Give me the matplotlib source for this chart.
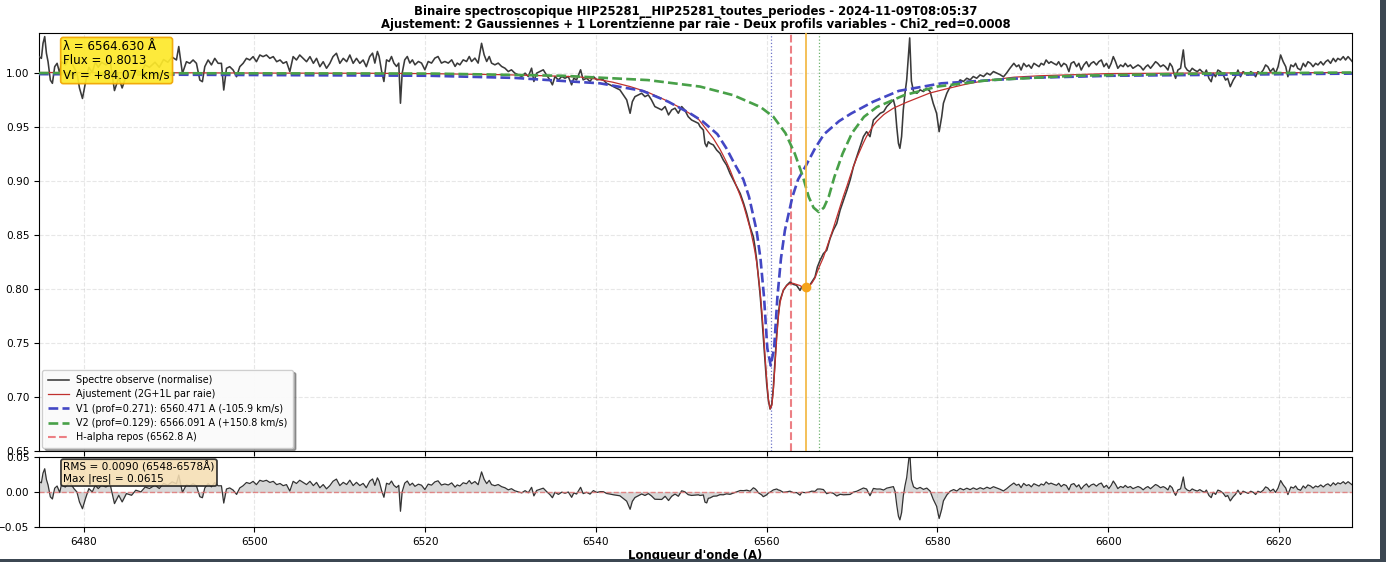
import numpy as np
import matplotlib
matplotlib.use("Agg")
import matplotlib.pyplot as plt
from matplotlib.patches import Rectangle

# ---------------- data ----------------
obs_wl = [
6474.77,6475.04,6475.23,6475.43,6475.63,6475.82,6476.09,6476.33,6476.60,6476.88,6477.19,6477.38,6477.85,6478.35,6478.85,
6479.20,6479.50,6479.85,6480.20,6480.60,6481.00,6481.35,6481.70,6482.10,6482.60,6483.10,6483.60,6484.10,6484.50,6485.00,
6485.60,6486.10,6486.70,6487.20,6487.70,6488.35,6488.85,6489.35,6489.85,6490.35,6490.86,6491.13,6491.56,6492.03,6492.42,
6492.81,6493.20,6493.60,6493.90,6494.18,6494.57,6494.96,6495.35,6495.74,6496.13,6496.40,6496.72,6497.10,6497.50,6497.90,
6498.28,6498.67,6499.06,6499.45,6499.84,6500.23,6500.63,6501.00,6501.40,6501.80,6502.20,6502.60,6503.00,6503.36,6503.75,
6504.14,6504.53,6504.92,6505.30,6505.70,6506.10,6506.50,6506.90,6507.27,6507.66,6508.05,6508.44,6508.83,6509.20,6509.60,
6510.00,6510.40,6510.80,6511.17,6511.56,6511.95,6512.34,6512.73,6513.10,6513.50,6513.83,6514.10,6514.40,6514.60,6514.90,
6515.16,6515.47,6515.78,6516.05,6516.33,6516.64,6516.90,6517.10,6517.30,6517.60,6517.90,6518.20,6518.50,6518.80,6519.20,
6519.57,6519.96,6520.35,6520.74,6521.13,6521.50,6521.90,6522.30,6522.70,6523.10,6523.50,6523.75,6524.06,6524.45,6524.84,
6525.16,6525.43,6525.82,6526.20,6526.60,6526.90,6527.20,6527.50,6527.77,6528.16,6528.55,6528.95,6529.34,6529.73,6530.10,
6530.50,6530.90,6531.30,6531.70,6532.07,6532.46,6532.73,6533.05,6533.44,6533.83,6534.20,6534.60,6534.90,6535.20,6535.60,
6536.00,6536.37,6536.76,6537.15,6537.40,6537.73,6538.20,6538.50,6538.90,6539.30,6539.70,6540.10,6540.50,6540.86,6541.25,
6541.64,6542.03,6542.40,6542.80,6543.20,6543.60,6544.00,6544.26,6544.57,6544.96,6545.35,6545.74,6546.13,6546.50,6546.90,
6547.30,6547.70,6548.10,6548.50,6548.87,6549.26,6549.65,6550.04,6550.40,6550.80,6551.20,6551.60,6552.00,
6552.19,6552.58,6552.77,6552.97,6553.16,6553.36,6553.75,6554.14,6554.53,6554.92,6555.30,6555.70,6556.10,6556.50,6556.90,
6557.30,6557.66,6558.05,6558.44,6558.63,6558.83,6559.02,6559.22,6559.41,6559.60,6559.80,6560.00,6560.20,6560.40,6560.60,
6560.78,6560.98,6561.17,6561.37,6561.56,6561.95,6562.34,6562.73,6563.12,6563.50,6563.90,6564.10,6564.50,6564.90,6565.27,
6565.66,6565.94,6566.25,6566.64,6567.03,6567.42,6567.80,6568.20,6568.60,6569.00,6569.40,6569.77,6570.16,6570.55,6570.94,
6571.33,6571.70,6572.10,6572.50,6572.90,6573.30,6573.70,6574.06,6574.45,6574.84,
6575.04,6575.23,6575.43,6575.60,6575.80,6576.00,6576.20,6576.40,6576.60,6576.75,6576.95,6577.20,6577.60,6577.97,6578.36,
6578.75,6579.14,6579.50,6579.90,6580.20,6580.50,6580.70,6581.10,6581.50,6581.90,6582.27,6582.66,6583.05,6583.44,6583.83,
6584.20,6584.60,6585.00,6585.40,6585.80,6586.17,6586.56,6586.95,6587.34,6587.73,6588.10,6588.50,6588.95,
6589.26,6589.53,6589.80,6590.10,6590.43,6590.70,6591.00,6591.30,6591.60,6591.90,6592.15,6592.46,6592.73,6593.05,6593.30,
6593.60,6593.95,6594.20,6594.50,6594.80,6595.10,6595.40,6595.66,6595.98,6596.30,6596.56,6596.84,6597.15,6597.46,6597.73,
6598.00,6598.30,6598.63,6598.90,6599.20,6599.50,6599.80,6600.08,6600.35,6600.60,6600.86,6601.13,6601.45,6601.76,6602.00,
6602.30,6602.60,6602.90,6603.20,6603.50,6603.80,6604.10,6604.40,6604.65,6604.96,6605.27,6605.55,6605.80,6606.13,6606.45,
6606.70,6607.00,6607.23,6607.50,6607.70,6607.90,6608.16,6608.48,6608.80,6609.00,6609.26,6609.57,6609.84,6610.10,6610.43,
6610.74,6611.00,6611.30,6611.50,6611.80,6612.07,6612.30,6612.58,6612.85,6613.16,6613.48,6613.75,6614.00,6614.30,6614.65,
6614.90,6615.20,6615.50,6615.80,6616.10,6616.40,6616.70,6617.00,6617.27,6617.54,6617.85,6618.16,6618.44,6618.70,6619.00,
6619.34,6619.60,6619.90,6620.20,6620.50,6620.80,6621.05,6621.40,6621.70,6621.95,6622.20,6622.54,6622.85,6623.10,6623.40,
6623.70,6624.00,6624.30,6624.57,6624.90,6625.20,6625.47,6625.74,6626.05,6626.37,6626.64,6626.90,6627.20,6627.54,6627.80,
6628.10,6628.60]

obs_flux = [
1.0147,1.0131,1.0270,1.0332,1.0178,1.0100,0.9930,0.9900,1.0054,1.0085,0.9992,1.0100,1.0070,1.0143,1.0048,
1.0000,0.9857,0.9760,0.9905,1.0048,1.0000,1.0095,1.0048,1.0095,1.0070,1.0105,0.9833,0.9952,0.9857,0.9976,
0.9952,1.0024,1.0000,1.0070,1.0048,1.0095,1.0048,1.0120,1.0095,1.0143,1.0116,1.0240,0.9992,1.0100,1.0085,
1.0116,1.0085,0.9930,0.9915,1.0054,1.0116,1.0070,1.0131,1.0085,1.0085,0.9838,1.0039,1.0054,1.0023,0.9961,
1.0054,1.0085,1.0131,1.0116,1.0147,1.0100,1.0162,1.0147,1.0162,1.0131,1.0147,1.0100,1.0116,1.0085,1.0100,
1.0008,1.0147,1.0116,1.0162,1.0131,1.0100,1.0147,1.0085,1.0131,1.0054,1.0100,1.0039,1.0085,1.0147,1.0178,
1.0085,1.0131,1.0100,1.0162,1.0085,1.0131,1.0085,1.0116,1.0054,1.0147,1.0179,1.0087,1.0195,1.0148,1.0009,
0.9917,1.0117,1.0102,1.0148,1.0087,1.0056,1.0087,0.9716,0.9994,1.0117,1.0148,1.0087,1.0117,1.0071,1.0102,
1.0087,1.0025,1.0102,1.0087,1.0133,1.0148,1.0087,1.0102,1.0087,1.0117,1.0056,1.0087,1.0071,1.0117,1.0102,
1.0148,1.0102,1.0133,1.0087,1.0270,1.0164,1.0102,1.0148,1.0087,1.0071,1.0087,1.0056,1.0040,1.0009,1.0025,
0.9994,0.9978,0.9963,0.9994,0.9963,1.0040,0.9917,0.9994,1.0009,1.0025,0.9978,0.9932,0.9886,0.9963,0.9932,
0.9963,0.9947,0.9963,0.9886,0.9947,0.9932,1.0025,0.9932,0.9947,0.9917,0.9963,0.9932,0.9938,0.9932,0.9900,
0.9886,0.9870,0.9855,0.9840,0.9793,0.9747,0.9623,0.9730,0.9777,0.9793,0.9808,0.9777,0.9793,0.9747,0.9685,
0.9670,0.9654,0.9685,0.9608,0.9654,0.9670,0.9623,0.9685,0.9654,0.9592,0.9561,0.9546,0.9530,
0.9500,0.9468,0.9345,0.9314,0.9360,0.9345,0.9330,0.9283,0.9252,0.9190,0.9144,0.9067,0.9005,0.8943,0.8881,
0.8789,0.8696,0.8572,0.8480,0.8387,0.8263,0.8109,0.7954,0.7769,0.7553,0.7336,0.7120,0.6966,0.6888,0.6935,
0.7090,0.7336,0.7583,0.7769,0.7893,0.7985,0.8032,0.8062,0.8041,0.8032,0.7985,0.8016,0.8001,0.8016,0.8062,
0.8109,0.8202,0.8263,0.8325,0.8356,0.8464,0.8542,0.8603,0.8727,0.8820,0.8912,0.9005,0.9129,0.9221,0.9314,
0.9407,0.9453,0.9407,0.9561,0.9592,0.9623,0.9638,0.9685,0.9716,0.9747,
0.9685,0.9500,0.9345,0.9299,0.9407,0.9654,0.9808,0.9932,1.0150,1.0320,0.9920,0.9824,0.9808,0.9840,0.9824,
0.9855,0.9824,0.9716,0.9623,0.9453,0.9592,0.9716,0.9808,0.9870,0.9900,0.9886,0.9932,0.9917,0.9947,0.9932,
0.9963,0.9947,0.9978,0.9963,0.9994,0.9978,1.0009,0.9994,0.9980,0.9960,0.9995,1.0040,1.0085,
1.0054,1.0070,1.0023,1.0085,1.0054,1.0070,1.0039,1.0085,1.0070,1.0054,1.0085,1.0070,1.0116,1.0085,1.0100,
1.0085,1.0070,1.0100,1.0054,1.0085,1.0070,1.0008,1.0085,1.0100,1.0054,1.0085,1.0023,1.0070,1.0100,1.0054,
1.0085,1.0100,1.0070,1.0100,1.0116,1.0054,1.0085,1.0039,1.0085,1.0147,1.0100,1.0039,1.0070,1.0054,1.0085,
1.0054,1.0070,1.0039,1.0054,1.0070,1.0054,1.0023,1.0054,1.0070,1.0039,1.0070,1.0100,1.0085,1.0054,1.0070,
1.0054,1.0023,1.0085,1.0054,0.9992,0.9946,1.0023,1.0039,1.0209,1.0054,1.0023,1.0008,1.0039,1.0023,1.0008,
1.0029,1.0008,0.9992,1.0023,0.9946,0.9915,0.9992,0.9961,1.0023,1.0008,0.9977,0.9930,0.9946,0.9869,0.9930,
0.9961,1.0023,0.9961,1.0008,0.9992,0.9977,1.0008,0.9992,0.9961,1.0008,0.9992,1.0023,1.0070,1.0054,1.0008,
1.0039,0.9992,1.0054,1.0162,1.0100,1.0054,0.9961,1.0070,1.0054,1.0085,1.0039,1.0023,1.0085,1.0054,1.0100,
1.0085,1.0054,1.0085,1.0070,1.0100,1.0070,1.0100,1.0116,1.0085,1.0131,1.0100,1.0131,1.0116,1.0147,1.0116,
1.0147,1.0100]

fit_wl = [6474.75,6490.0,6500.0,6513.5,6520.0,6529.0,6534.0,6538.0,6540.0,6542.0,6544.0,6546.0,6548.0,6550.0,6552.0,
6552.19,6552.58,6552.77,6552.97,6553.16,6553.36,6553.75,6554.14,6554.53,6554.92,6555.30,6555.70,6556.10,6556.50,6556.90,
6557.30,6557.66,6558.05,6558.44,6558.63,6558.83,6559.02,6559.22,6559.41,6559.60,6559.80,6560.00,6560.20,6560.40,6560.60,
6560.78,6560.98,6561.17,6561.37,6561.56,6561.95,6562.34,6562.73,6563.12,6563.50,6563.90,6564.10,6564.50,6564.90,6565.27,
6565.66,6565.94,6566.25,6566.64,6567.03,6567.42,6567.80,6568.20,6568.60,6569.00,6569.40,6569.77,6570.16,6570.55,6570.94,
6571.33,6571.70,6572.10,6572.50,6572.90,6573.30,6573.70,6574.06,6574.45,6574.84,
6576.4,6579.1,6581.1,6583.0,6585.0,6587.0,6589.0,6592.0,6600.0,6610.0,6628.6]
fit_flux = [1.000,0.9998,0.9995,0.9993,0.999,0.998,0.997,0.996,0.994,0.991,0.987,0.982,0.975,0.967,0.957,
0.955,0.951,0.949,0.947,0.945,0.943,0.939,0.934,0.929,0.923,0.917,0.910,0.902,0.894,0.886,
0.877,0.867,0.856,0.842,0.834,0.824,0.812,0.798,0.781,0.762,0.739,0.716,0.698,0.689,0.692,
0.706,0.730,0.754,0.774,0.787,0.799,0.803,0.805,0.805,0.804,0.803,0.802,0.801,0.802,0.805,
0.810,0.816,0.822,0.829,0.838,0.847,0.856,0.866,0.876,0.886,0.895,0.904,0.913,0.921,0.928,
0.935,0.941,0.946,0.951,0.955,0.958,0.961,0.963,0.965,0.967,
0.9725,0.981,0.985,0.9886,0.9917,0.9938,0.9957,0.997,0.999,0.9995,1.000]

v1_wl = [6474.75,6520.471,6530.471,6540.471,6545.471,6548.471,6551.071,6552.471,6554.221,6555.271,6556.271,6557.271,
6557.931,6558.811,6559.271,6559.691,6560.071,6560.471,6560.871,6561.251,6561.671,6562.131,6563.011,6563.671,
6564.671,6565.671,6566.721,6568.471,6569.871,6572.471,6575.471,6580.471,6590.471,6600.471,6628.6]
v1_flux = [0.9985,0.997,0.995,0.990,0.983,0.973,0.962,0.955,0.943,0.930,0.915,0.901,
0.885,0.854,0.828,0.792,0.745,0.729,0.745,0.792,0.828,0.854,0.885,0.901,
0.915,0.930,0.943,0.955,0.962,0.973,0.983,0.990,0.995,0.997,0.999]

v2_wl = [6474.75,6521.091,6536.091,6546.091,6552.191,6556.091,6559.291,6560.791,6562.191,6563.291,6564.251,6564.921,
6565.491,6566.091,6566.691,6567.261,6567.931,6568.891,6569.991,6571.391,6572.891,6576.091,6579.991,6586.091,
6596.091,6611.091,6628.6]
v2_flux = [0.9995,0.999,0.997,0.993,0.987,0.979,0.968,0.959,0.944,0.925,0.9035,0.885,
0.875,0.871,0.875,0.885,0.9035,0.925,0.944,0.959,0.968,0.979,0.987,0.993,
0.997,0.999,1.000]

v1_center = 6560.471
v2_center = 6566.091
halpha_rest = 6562.8
cursor_wl = 6564.630
cursor_flux = 0.8013

title_text = ("Binaire spectroscopique HIP25281__HIP25281_toutes_periodes - 2024-11-09T08:05:37\n"
              "Ajustement: 2 Gaussiennes + 1 Lorentzienne par raie - Deux profils variables - Chi2_red=0.0008")
legend_labels = ["Spectre observe (normalise)", "Ajustement (2G+1L par raie)",
                 "V1 (prof=0.271): 6560.471 A (-105.9 km/s)",
                 "V2 (prof=0.129): 6566.091 A (+150.8 km/s)",
                 "H-alpha repos (6562.8 A)"]
cursor_text = "λ = 6564.630 Å\nFlux = 0.8013\nVr = +84.07 km/s"
res_text = "RMS = 0.0090 (6548-6578Å)\nMax |res| = 0.0615"
res_yticks = [-0.05, 0.0, 0.05]
main_yticks = [0.65, 0.70, 0.75, 0.80, 0.85, 0.90, 0.95, 1.00]
x_ticks = [6480, 6500, 6520, 6540, 6560, 6580, 6600, 6620]

# ---------------- figure ----------------
plt.rcParams['font.family'] = ['DejaVu Sans']
plt.rcParams['font.size'] = 7.6

W, H = 1386, 562
fig = plt.figure(figsize=(W / 100, H / 100), dpi=100)
fig.patch.set_facecolor('white')

ax = fig.add_axes([39 / W, 1 - 451 / H, (1352 - 39) / W, (451 - 32.5) / H])
axr = fig.add_axes([39 / W, 1 - 527 / H, (1352 - 39) / W, 70 / H], sharex=ax)

obs_wl_a = np.array(obs_wl)
obs_flux_a = np.array(obs_flux)
fit_on_obs = np.interp(obs_wl_a, fit_wl, fit_flux)
residual = obs_flux_a - fit_on_obs

ax.plot(obs_wl, obs_flux, color='#3a3a3a', lw=1.15, label=legend_labels[0], zorder=3)
ax.plot(fit_wl, fit_flux, color='#c0302e', lw=0.9, label=legend_labels[1], zorder=4)
ax.plot(v1_wl, v1_flux, color='#4347c4', lw=1.9, ls='--', label=legend_labels[2], zorder=5)
ax.plot(v2_wl, v2_flux, color='#48a048', lw=1.9, ls='--', label=legend_labels[3], zorder=5)
ax.axvline(halpha_rest, color='#ec7f84', lw=1.5, ls='--', label=legend_labels[4], zorder=2)
ax.axvline(v1_center, color='#6f75c9', lw=0.9, ls=':', zorder=2)
ax.axvline(v2_center, color='#6fb36f', lw=0.9, ls=':', zorder=2)
ax.axvline(cursor_wl, color='#f2b53c', lw=1.2, zorder=6)
ax.plot([cursor_wl], [cursor_flux], 'o', color='#f5a31a', ms=6, zorder=7)

ax.set_xlim(6474.76, 6628.56)
ax.set_ylim(0.65, 1.037)
ax.set_yticks(main_yticks)
ax.grid(True, linestyle='--', alpha=0.3)
ax.tick_params(labelbottom=False)
ax.set_title(title_text, fontsize=8.4, fontweight='bold', pad=3, linespacing=1.05)

ax.text(0.0185, 0.982, cursor_text, transform=ax.transAxes, va='top', ha='left', fontsize=8.6,
        linespacing=1.1, zorder=10,
        bbox=dict(boxstyle='round,pad=0.22', facecolor='#fde92a', edgecolor='#f0a500',
                  alpha=0.92, lw=1.2))

leg = ax.legend(loc='lower left', fontsize=6.9, shadow=True, framealpha=0.95,
                borderpad=0.55, labelspacing=0.45, handlelength=2.2, borderaxespad=0.35)
leg.set_zorder(20)

axr.fill_between(obs_wl_a, residual, 0, color='gray', alpha=0.3, lw=0)
axr.plot(obs_wl_a, residual, color='#333333', lw=0.9)
axr.axhline(0, color='#e07070', ls='--', lw=1.0, alpha=0.8)
axr.set_ylim(-0.05, 0.05)
axr.set_yticks(res_yticks)
axr.set_xticks(x_ticks)
axr.grid(True, linestyle='--', alpha=0.3)
axr.set_xlabel("Longueur d'onde (A)", fontweight='bold', fontsize=8.4, labelpad=2)
axr.text(0.0185, 0.943, res_text, transform=axr.transAxes, va='top', ha='left', fontsize=7.6,
         zorder=10, linespacing=1.1,
         bbox=dict(boxstyle='round,pad=0.22', facecolor='wheat', edgecolor='#222222',
                   alpha=0.88, lw=1.3))

# screenshot frame
fig.add_artist(Rectangle((1380 / W, 0), 6 / W, 1, transform=fig.transFigure,
                         facecolor='#3c4752', edgecolor='none'))
fig.add_artist(Rectangle((0, 0), 1, 3 / H, transform=fig.transFigure,
                         facecolor='#3c4752', edgecolor='none'))

fig.savefig('out.png', dpi=100)
